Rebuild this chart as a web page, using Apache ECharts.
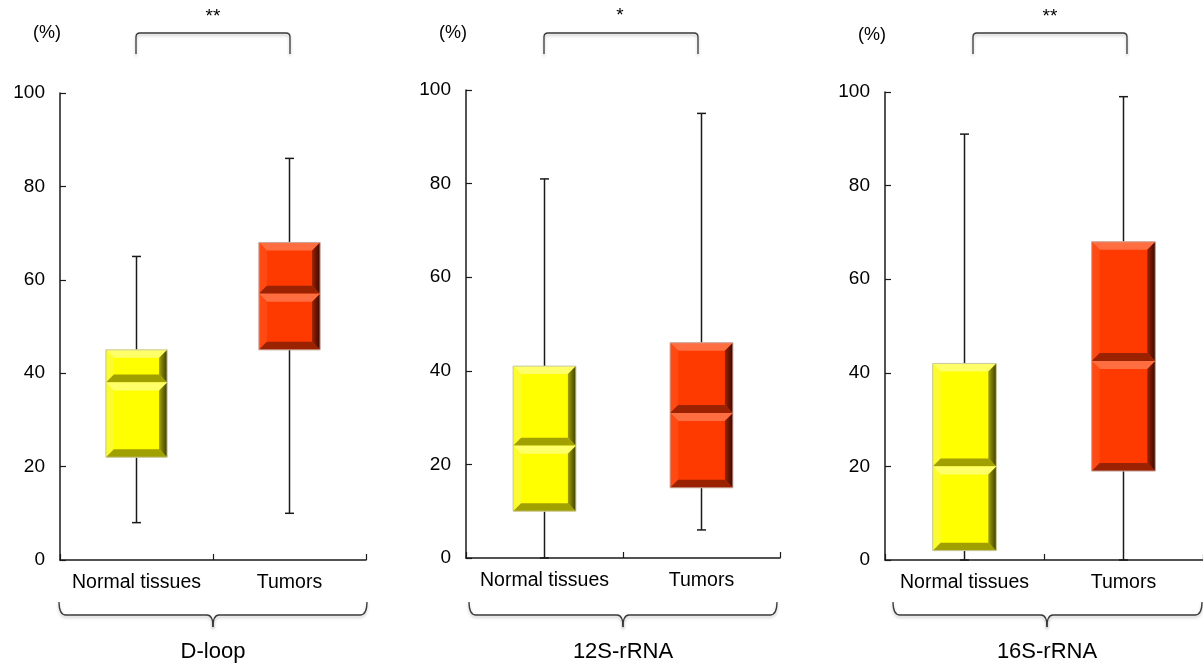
<!DOCTYPE html>
<html>
<head>
<meta charset="utf-8">
<script src="https://cdn.jsdelivr.net/npm/echarts@6/dist/echarts.min.js"></script>
<style>
html,body{margin:0;padding:0;background:#fff;}
#main{width:1203px;height:666px;}
</style>
</head>
<body>
<div id="main"></div>
<script>
// ---- data ----
const categories = ['Normal tissues', 'Tumors'];
const panelTitles = ['D-loop', '12S-rRNA', '16S-rRNA'];
const significance = ['**', '*', '**'];
const yTicks = [0, 20, 40, 60, 80, 100];
// [min, Q1, median, Q3, max] for Normal tissues, Tumors
const dloopStats = [[8, 22, 38, 45, 65], [10, 45, 57, 68, 86]];
const rrna12Stats = [[0, 10, 24, 41, 81], [6, 15, 31, 46, 95]];
const rrna16Stats = [[0, 2, 20, 42, 91], [0, 19, 42.5, 68, 99]];
const yUnit = '(%)';

const allStats = [dloopStats, rrna12Stats, rrna16Stats];

// ---- styles / layout ----
const FONT = "'Liberation Sans', Arial, sans-serif";
const palettes = [
  { base: '#ffff00', light: '#ffff6a', lightEdge: '#fbfb30', dark: '#a0a000', darkest: '#3e3e00', border: '#c8c8a0' },
  { base: '#ff3a00', light: '#ff6e40', lightEdge: '#ff4a14', dark: '#9a2200', darkest: '#3a0800', border: '#c8a8a0' }
];
const grids = [
  { left: 60, top: 93, width: 306, height: 467 },
  { left: 466, top: 90, width: 314, height: 468 },
  { left: 885, top: 92, width: 322, height: 468 }
];
const bracketX = [[136, 290], [544, 698], [973, 1127]];
const braceX = [[59, 213, 367], [469, 623, 777], [893, 1047, 1202]];
const unitPos = [[47, 33], [453, 33], [872, 35]];
const sigPos = [[213, 17], [620, 16], [1050, 17]];

function bevelHalf(x0, y0, x1, y1, pal) {
  const h = y1 - y0, w = x1 - x0;
  const b = Math.max(2, Math.min(8, h / 3, w / 6));
  return [
    { type: 'rect', shape: { x: x0, y: y0, width: w, height: h }, style: { fill: pal.base } },
    { type: 'polygon', shape: { points: [[x0, y0], [x1, y0], [x1 - b, y0 + b], [x0 + b, y0 + b]] }, style: { fill: pal.light } },
    { type: 'polygon', shape: { points: [[x0, y0], [x0 + b, y0 + b], [x0 + b, y1 - b], [x0, y1]] }, style: { fill: pal.lightEdge } },
    { type: 'polygon', shape: { points: [[x0, y1], [x1, y1], [x1 - b, y1 - b], [x0 + b, y1 - b]] }, style: { fill: pal.dark } },
    { type: 'polygon', shape: { points: [[x1, y0], [x1, y1], [x1 - b, y1 - b], [x1 - b, y0 + b]] },
      style: { fill: new echarts.graphic.LinearGradient(0, 0, 1, 0, [{ offset: 0, color: pal.dark }, { offset: 1, color: pal.darkest }]) } }
  ];
}

function renderBox(params, api) {
  const cat = api.value(0);
  const pMin = api.coord([cat, api.value(1)]);
  const pQ1 = api.coord([cat, api.value(2)]);
  const pMed = api.coord([cat, api.value(3)]);
  const pQ3 = api.coord([cat, api.value(4)]);
  const pMax = api.coord([cat, api.value(5)]);
  const band = api.size([1, 0])[0];
  const bw = band * 0.4;
  const cx = pMed[0];
  const x0 = cx - bw / 2, x1 = cx + bw / 2;
  const pal = palettes[cat];
  const cap = 4.5;
  const ws = { stroke: '#1a1a1a', lineWidth: 1.5 };
  const children = [
    { type: 'line', shape: { x1: cx, y1: pQ3[1], x2: cx, y2: pMax[1] }, style: ws },
    { type: 'line', shape: { x1: cx - cap, y1: pMax[1], x2: cx + cap, y2: pMax[1] }, style: ws },
    { type: 'line', shape: { x1: cx, y1: pQ1[1], x2: cx, y2: pMin[1] }, style: ws },
    { type: 'line', shape: { x1: cx - cap, y1: pMin[1], x2: cx + cap, y2: pMin[1] }, style: ws }
  ];
  children.push(...bevelHalf(x0, pQ3[1], x1, pMed[1], pal));
  children.push(...bevelHalf(x0, pMed[1], x1, pQ1[1], pal));
  children.push({ type: 'rect', shape: { x: x0, y: pQ3[1], width: bw, height: pQ1[1] - pQ3[1] },
    style: { fill: 'none', stroke: pal.border, lineWidth: 1 } });
  return { type: 'group', children };
}

const graphics = [];
const ls = { stroke: '#3a3a3a', lineWidth: 1.3, fill: null, shadowColor: 'rgba(0,0,0,0.25)', shadowBlur: 3, shadowOffsetY: 2 };
function seg(x1, y1, x2, y2) { graphics.push({ type: 'line', shape: { x1, y1, x2, y2 }, style: ls }); }
function curve(x1, y1, cx, cy, x2, y2) { graphics.push({ type: 'bezierCurve', shape: { x1, y1, x2, y2, cpx1: cx, cpy1: cy }, style: ls }); }
grids.forEach((g, i) => {
  const [xa, xb] = bracketX[i];
  const topY = 33, botY = 54;
  seg(xa, botY, xa, topY + 4);
  curve(xa, topY + 4, xa, topY, xa + 4, topY);
  seg(xa + 4, topY, xb - 4, topY);
  curve(xb - 4, topY, xb, topY, xb, topY + 4);
  seg(xb, topY + 4, xb, botY);
  graphics.push({ type: 'text', x: sigPos[i][0], y: sigPos[i][1], style: { text: significance[i], fontSize: 19, fontFamily: FONT, fill: '#000', align: 'center', verticalAlign: 'middle' } });
  graphics.push({ type: 'text', x: unitPos[i][0], y: unitPos[i][1], style: { text: yUnit, fontSize: 18, fontFamily: FONT, fill: '#000', align: 'center', verticalAlign: 'middle' } });
  const [x0, xc, x1] = braceX[i];
  const by = 615, ty = 602, sy = 627;
  curve(x0, ty, x0, by, x0 + 7, by);
  seg(x0 + 7, by, xc - 6, by);
  curve(xc - 6, by, xc, by, xc, sy);
  curve(xc, sy, xc, by, xc + 6, by);
  seg(xc + 6, by, x1 - 7, by);
  curve(x1 - 7, by, x1, by, x1, ty);
  graphics.push({ type: 'text', x: xc, y: 652, style: { text: panelTitles[i], fontSize: 22, fontFamily: FONT, fill: '#000', align: 'center', verticalAlign: 'middle' } });
});

const option = {
  backgroundColor: '#fff',
  animation: false,
  grid: grids.map(g => Object.assign({ containLabel: false }, g)),
  xAxis: grids.map((g, i) => ({
    type: 'category', gridIndex: i, data: categories, boundaryGap: true,
    axisLine: { show: true, lineStyle: { color: '#1a1a1a', width: 1.5 } },
    axisTick: { show: true, inside: true, length: 6, interval: 0, lineStyle: { color: '#1a1a1a', width: 1.2 } },
    axisLabel: { fontSize: 19.5, color: '#000', fontFamily: FONT, margin: 13, interval: 0 },
    splitLine: { show: false }
  })),
  yAxis: grids.map((g, i) => ({
    type: 'value', gridIndex: i, min: yTicks[0], max: yTicks[yTicks.length - 1], interval: yTicks[1] - yTicks[0],
    axisLine: { show: true, lineStyle: { color: '#1a1a1a', width: 1.5 } },
    axisTick: { show: true, inside: true, length: 6, lineStyle: { color: '#1a1a1a', width: 1.2 } },
    axisLabel: { fontSize: 19, color: '#000', fontFamily: FONT, margin: 15 },
    splitLine: { show: false }
  })),
  graphic: graphics,
  series: allStats.map((stats, i) => ({
    type: 'custom', xAxisIndex: i, yAxisIndex: i,
    renderItem: renderBox,
    encode: { x: 0, y: [1, 2, 3, 4, 5] },
    data: stats.map((s, c) => [c].concat(s)),
    clip: false
  }))
};

const chart = echarts.init(document.getElementById('main'), null, { renderer: 'canvas' });
chart.setOption(option);
</script>
</body>
</html>
